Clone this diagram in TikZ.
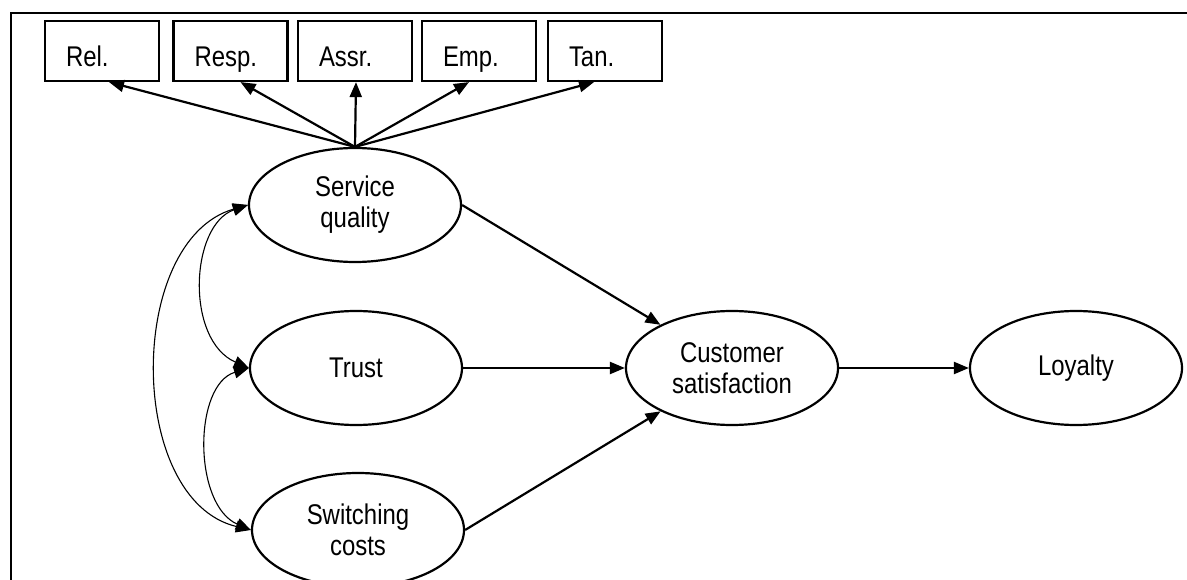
\documentclass[tikz,border=0pt]{standalone}
\usepackage{fontspec}
\setmainfont[FakeStretch=0.84]{Liberation Sans}
\usetikzlibrary{shapes.geometric,arrows.meta}
\begin{document}
\begin{tikzpicture}[x=1pt,y=-1pt,
  every node/.style={font=\fontsize{28.5}{31}\selectfont},
  box/.style={draw, line width=2.2pt, minimum width=114pt, minimum height=60pt, inner sep=0pt,
              text width=72pt, align=left, text height=40pt, text depth=8pt},
  latent/.style={draw, ellipse, line width=2.2pt, minimum width=212pt, minimum height=114pt,
              inner sep=0pt, align=center},
  path/.style={line width=2.2pt, -{Triangle[length=15pt,width=12pt]}},
  cov/.style={line width=1.1pt, {Triangle[length=15pt,width=12pt]}-{Triangle[length=15pt,width=12pt]}}]
\useasboundingbox (0,0) rectangle (1187,580);
\fill[white] (0,0) rectangle (1187,580);
\clip (0,0) rectangle (1187,580);
\draw[line width=2.4pt] (11,13) rectangle (1300,700);

\node[box] (rel)  at (102,51)   {Rel.};
\node[box] (resp) at (230.5,51) {Resp.};
\node[box] (assr) at (355,51)   {Assr.};
\node[box] (emp)  at (479,51)   {Emp.};
\node[box] (tan)  at (605,51)   {Tan.};

\node[latent] (sq)  at (355,205)  {Service\\quality};
\node[latent] (tr)  at (356,368)  {Trust};
\node[latent] (sc)  at (358,530)  {Switching\\costs};
\node[latent] (cs)  at (732,368)  {Customer\\satisfaction};
\node[latent] (loy) at (1076,368) {Loyalty};

\draw[path] (sq.north) -- ([xshift=7pt]rel.south);
\draw[path] (sq.north) -- ([xshift=10pt]resp.south);
\draw[path] (sq.north) -- ([xshift=1pt]assr.south);
\draw[path] (sq.north) -- ([xshift=-10pt]emp.south);
\draw[path] (sq.north) -- ([xshift=-11pt]tan.south);

\draw[path] (sq.east) -- (cs);
\draw[path] (tr) -- (cs);
\draw[path] (sc.east) -- (cs);
\draw[path] (cs) -- (loy);

\draw[cov] (sq.west) .. controls (190,225) and (185,340) .. (tr.west);
\draw[cov] (tr.west) .. controls (193,385) and (193,505) .. (sc.west);
\draw[cov] (sq.west) .. controls (126,240) and (126,500) .. (sc.west);
\end{tikzpicture}
\end{document}
